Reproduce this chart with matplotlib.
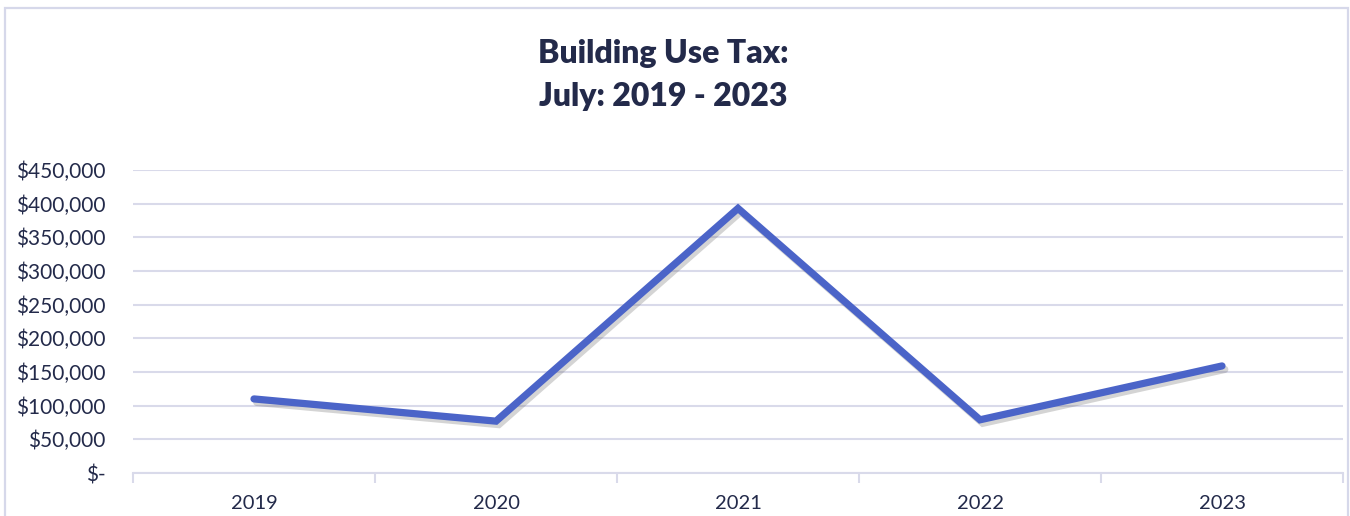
import matplotlib
matplotlib.use("Agg")
import matplotlib.pyplot as plt
import matplotlib.patheffects as pe
from matplotlib.patches import Rectangle
from matplotlib.ticker import FuncFormatter, FixedLocator

years = ["2019", "2020", "2021", "2022", "2023"]
values = [110000, 77000, 393000, 79000, 159000]
title = "Building Use Tax:\nJuly: 2019 - 2023"

TEXT = "#232A4A"
GRID = "#D9DAEA"
LINE = "#4B64C8"

plt.rcParams['font.family'] = ['Lato', 'DejaVu Sans']

fig = plt.figure(figsize=(13.5, 5.16), dpi=100)
fig.patch.set_facecolor("white")

# chart border
fig.add_artist(Rectangle((5/1350, -0.1), (1348-5)/1350, 1.1 - 8/516,
                         transform=fig.transFigure, fill=False,
                         edgecolor="#D6D8EA", linewidth=1.6))

ax = fig.add_axes([133/1350, 1-473/516, (1343-133)/1350, (473-170)/516])
x = list(range(len(years)))
ax.plot(x, values, color=LINE, linewidth=5.2, solid_joinstyle="miter",
        solid_capstyle="round", zorder=3,
        path_effects=[pe.SimpleLineShadow(offset=(2, -2.5), shadow_color="#666666", alpha=0.28),
                      pe.Normal()])

ax.set_xlim(-0.5, len(years) - 0.5)
ax.set_ylim(0, 450000)
ax.set_yticks(range(0, 450001, 50000))
ax.yaxis.set_major_formatter(FuncFormatter(lambda v, p: "$-" if v == 0 else f"${int(v):,}"))
ax.set_xticks(x)
ax.set_xticklabels(years)
ax.xaxis.set_minor_locator(FixedLocator([i - 0.5 for i in range(len(years) + 1)]))

ax.grid(axis="y", color=GRID, linewidth=1.5, zorder=0)
for s in ["top", "right", "left"]:
    ax.spines[s].set_visible(False)
ax.spines["bottom"].set_color(GRID)
ax.spines["bottom"].set_linewidth(1.5)

ax.tick_params(axis="y", length=0, pad=20, labelsize=15, labelcolor=TEXT)
ax.tick_params(axis="x", which="major", length=0, pad=16, labelsize=14.5, labelcolor=TEXT)
ax.tick_params(axis="x", which="minor", length=7, width=1.5, color=GRID)

fig.text(0.491, 1-75/516, title, ha="center", va="center", fontsize=23,
         fontweight="heavy", color=TEXT, linespacing=1.55)

fig.savefig("out.png", dpi=100, facecolor="white")
